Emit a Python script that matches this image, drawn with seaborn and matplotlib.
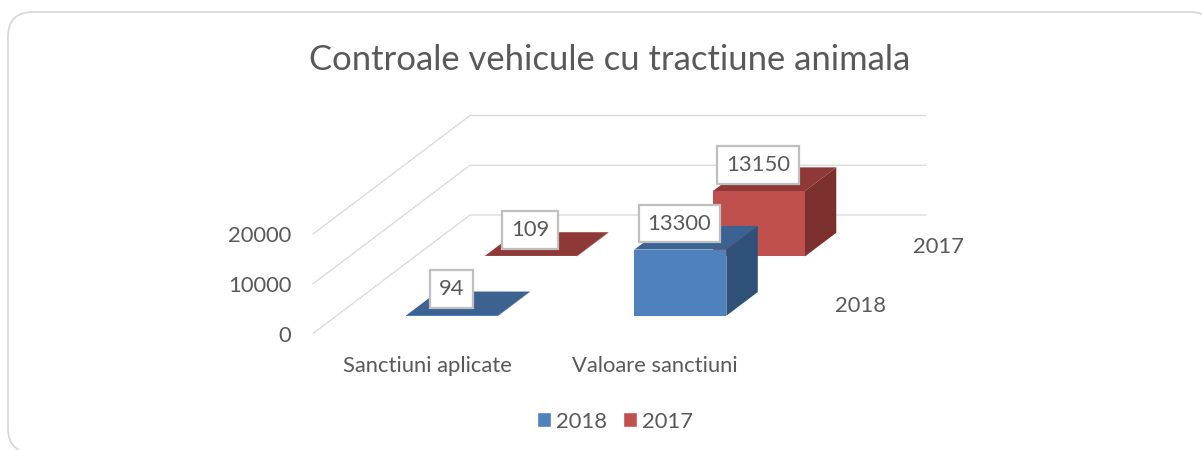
# controale_vehicule.py
# Excel style 3D column chart, drawn in an oblique view on a normal axes

import pandas as pd
import matplotlib.pyplot as plt
from matplotlib.patches import FancyBboxPatch, Patch, Polygon
from matplotlib.transforms import Affine2D
import seaborn as sns

# Data
categories = ["Sanctiuni aplicate", "Valoare sanctiuni"]
series_names = ["2018", "2017"]
values_2018 = [94, 13300]
values_2017 = [109, 13150]
value_ticks = [0, 10000, 20000]

TITLE = "Controale vehicule cu tractiune animala"
TEXT_COLOR = "#595959"
GRID_COLOR = "#D9D9D9"
FONT = "Lato"
LABEL_SIZE = 15.8

front_colors = {"2018": "#4F81BD", "2017": "#C0504D"}
top_colors = {"2018": "#3C6292", "2017": "#8E3937"}
side_colors = {"2018": "#2F5079", "2017": "#7C302E"}

# Oblique view: how far the full depth of the floor moves, in data units
DEPTH_X = 157 / 228
DEPTH_Y = 118.5 / (99.5 / 20000)
BAR_WIDTH = 0.4035
BAR_DEPTH = 0.2
X_NUDGE = 0.008

sns.set_theme(style="white")
plt.rcParams["font.family"] = [FONT, "DejaVu Sans"]

df = pd.DataFrame({
    "category": categories * 2,
    "series": [series_names[0]] * 2 + [series_names[1]] * 2,
    "value": values_2018 + values_2017,
})

fig = plt.figure(figsize=(12.02, 4.5), dpi=100, facecolor="white")

# Rounded card behind the chart, runs off the right and bottom edges
bg = fig.add_axes([0, 0, 1, 1])
bg.set_xlim(0, 1202)
bg.set_ylim(450, 0)
bg.axis("off")
bg.add_patch(FancyBboxPatch((33, 37), 1157, 391, boxstyle="round,pad=25,rounding_size=25",
                            facecolor="white", edgecolor=GRID_COLOR, linewidth=1.3, clip_on=False))

ax = fig.add_axes([313 / 1202, (450 - 333.5) / 450, 456 / 1202, 99.5 / 450])
ax.patch.set_alpha(0)

sns.barplot(data=df, x="category", y="value", hue="series", hue_order=series_names,
            palette=front_colors, saturation=1, dodge=False, width=BAR_WIDTH, legend=False,
            linewidth=0, ax=ax)

ax.set_xlim(-0.5, 1.5)
ax.set_ylim(0, 20000)
ax.set_xlabel("")
ax.set_ylabel("")
ax.set_yticks(value_ticks)
ax.set_xticks(range(len(categories)))
ax.set_xticklabels(categories)
ax.tick_params(axis="x", length=0, pad=16, labelsize=LABEL_SIZE, labelcolor=TEXT_COLOR)
ax.tick_params(axis="y", length=0, pad=15.5, labelsize=LABEL_SIZE, labelcolor=TEXT_COLOR)
sns.despine(ax=ax, left=True, bottom=True)

# Gridlines go along the side wall and then the back wall
for tick in value_ticks:
    ax.plot([-0.5, -0.5 + DEPTH_X, 1.5 + DEPTH_X], [tick, tick + DEPTH_Y, tick + DEPTH_Y],
            color=GRID_COLOR, linewidth=0.9, clip_on=False, zorder=1)

# Front faces come from seaborn, move them back and add top and side faces
for i, (name, container) in enumerate(zip(series_names, ax.containers)):
    depth = (i + 0.5) / 2 - BAR_DEPTH / 2
    dx = depth * DEPTH_X + X_NUDGE
    dy = depth * DEPTH_Y
    back_x = BAR_DEPTH * DEPTH_X
    back_y = BAR_DEPTH * DEPTH_Y
    z = 4 if name == "2018" else 3
    for bar in container:
        bar.set_transform(Affine2D().translate(dx, dy) + ax.transData)
        bar.set_clip_on(False)
        bar.set_zorder(z + 0.2)
        x0 = bar.get_x() + dx
        x1 = x0 + bar.get_width()
        y0 = dy
        y1 = dy + bar.get_height()
        ax.add_patch(Polygon([(x0, y1), (x1, y1), (x1 + back_x, y1 + back_y), (x0 + back_x, y1 + back_y)],
                             facecolor=top_colors[name], edgecolor="none", clip_on=False, zorder=z))
        ax.add_patch(Polygon([(x1, y0), (x1, y1), (x1 + back_x, y1 + back_y), (x1 + back_x, y0 + back_y)],
                             facecolor=side_colors[name], edgecolor="none", clip_on=False, zorder=z))
        # Value label in a white box
        ax.annotate(f"{bar.get_height():.0f}", xy=((x0 + x1) / 2, y1), xytext=(-1, 26),
                    textcoords="offset pixels", ha="center", va="center",
                    fontsize=LABEL_SIZE, color=TEXT_COLOR, zorder=10, annotation_clip=False,
                    bbox=dict(boxstyle="square,pad=0.40", facecolor="white",
                              edgecolor="#BFBFBF", linewidth=1.6))
    # Series name on the depth axis
    ax.annotate(name, xy=(1.5 + (i + 0.5) / 2 * DEPTH_X, (i + 0.5) / 2 * DEPTH_Y), xytext=(52, -2),
                textcoords="offset pixels", ha="center", va="center",
                fontsize=LABEL_SIZE, color=TEXT_COLOR, annotation_clip=False)

bg.text(609.5, 59.5, TITLE, ha="center", va="center", fontsize=24.9, color=TEXT_COLOR)

handles = [Patch(facecolor=front_colors[name], label=name) for name in series_names]
fig.legend(handles=handles, loc="center", bbox_to_anchor=(615 / 1202, 28.5 / 450), ncol=2,
           frameon=False, fontsize=LABEL_SIZE, labelcolor=TEXT_COLOR, handlelength=0.65, handleheight=0.65,
           handletextpad=0.25, columnspacing=0.7, borderpad=0)

fig.savefig("out.png", dpi=100)
plt.close(fig)
